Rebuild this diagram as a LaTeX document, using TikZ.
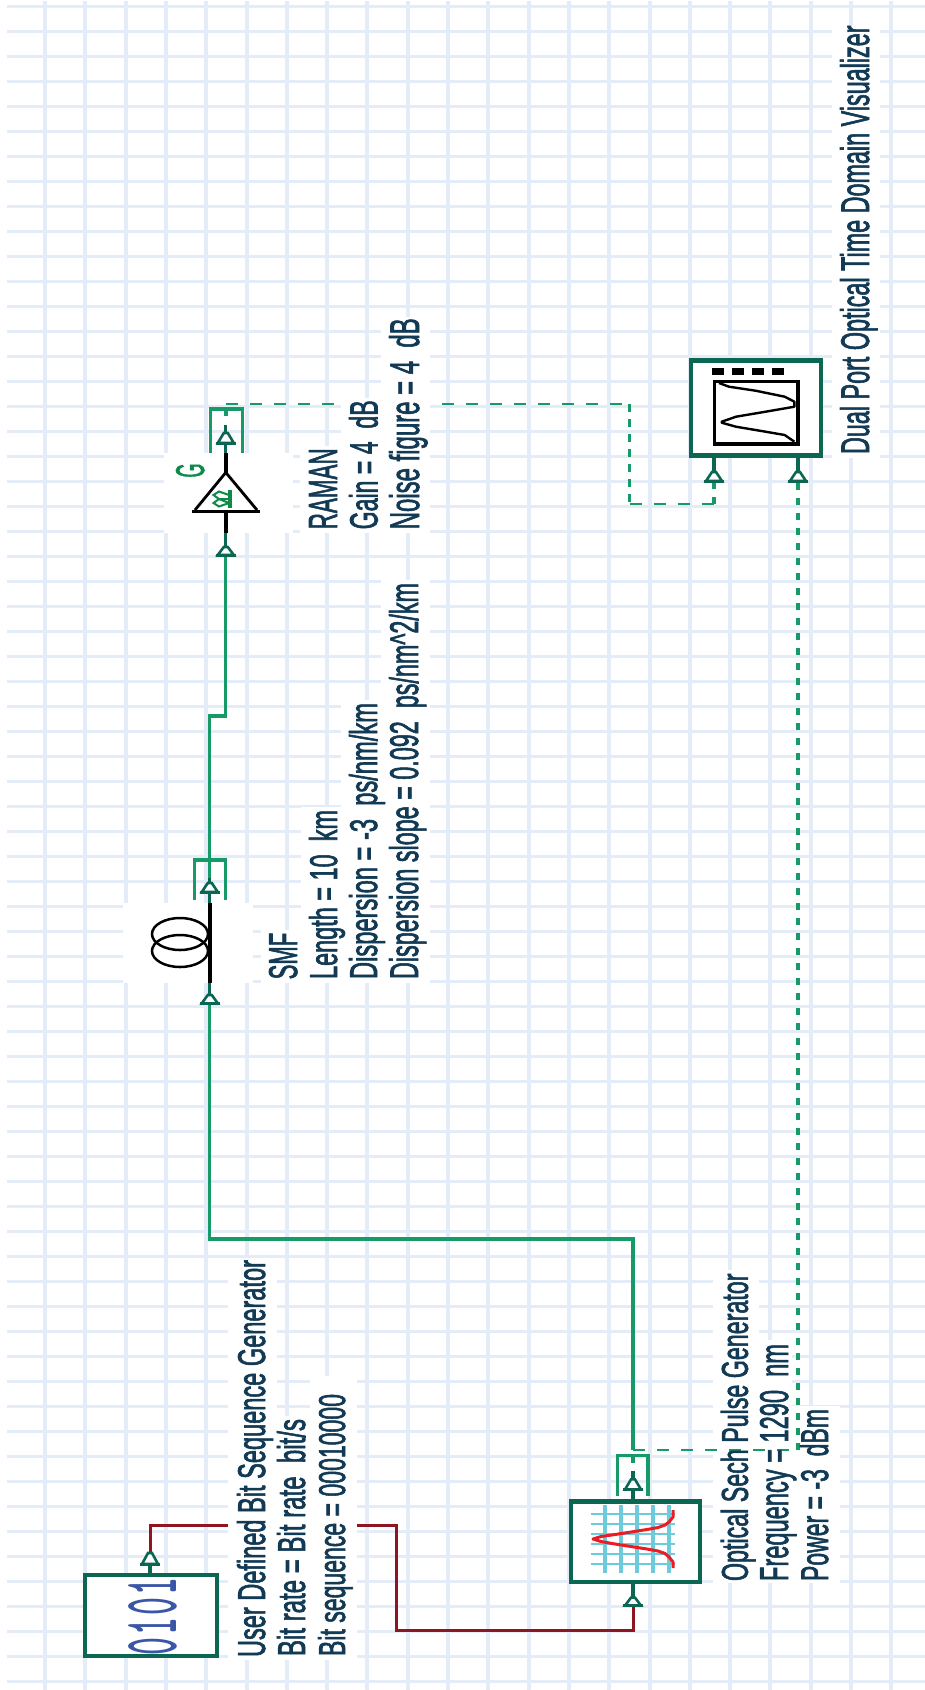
\documentclass[tikz,border=0pt]{standalone}
\usepackage{fontspec}
\usepackage{graphicx}
\setmainfont[FakeBold=2.2]{Liberation Sans}
\definecolor{gridc}{HTML}{E4ECF7}
\definecolor{dkgreen}{HTML}{0B6652}
\definecolor{wire}{HTML}{159A68}
\definecolor{wirered}{HTML}{8F1620}
\definecolor{txtc}{HTML}{123A55}
\definecolor{digit}{HTML}{3A56A6}
\definecolor{gicon}{HTML}{0B8A4A}
\definecolor{cy}{HTML}{6DCBDC}
\definecolor{rd}{HTML}{ED1C24}
\tikzset{
  x=1pt,y=-1pt,
  lbl/.style={anchor=base west,rotate=90,inner sep=0pt,outer sep=0pt,text=txtc},
  blockbox/.style={draw=dkgreen,line width=4.2pt,fill=white,inner sep=0pt,outer sep=0pt,minimum width=#1},
  solidwire/.style={draw=wire,line width=3.2pt},
  redwire/.style={draw=wirered,line width=3pt},
  dashh/.style={draw=wire,line width=2.8pt,dash pattern=on 12pt off 12pt},
  dashv/.style={draw=wire,line width=3.4pt,dash pattern=on 7.5pt off 7.5pt},
  stemline/.style={draw=dkgreen,line width=3.2pt},
  bracket/.style={draw=wire,line width=3.2pt},
  blackline/.style={draw=black,line width=3.6pt}
}
% \lab{name}{x baseline}{y start}{length}{height}{text}
\newcommand{\lab}[6]{\node[lbl] (#1) at (#2,#3) {\resizebox{#4pt}{#5pt}{#6}};}
% \portm{name}{x}{y apex}{y base}
\newcommand{\portm}[4]{%
  \coordinate (#1a) at (#2,#3);
  \coordinate (#1b) at (#2,#4);
  \draw[dkgreen,line width=2.6pt,fill=white,line join=miter] (#2-8,#4) -- (#2-2,#3) -- (#2+2,#3) -- (#2+8,#4) -- cycle;
  \draw[dkgreen,line width=3pt] (#2-10,#4) -- (#2+10,#4);
}
\newcommand{\brk}[4]{\draw[bracket] (#1,#4) -- (#1,#3) -- (#2,#3) -- (#2,#4);}
\begin{document}
\begin{tikzpicture}
\useasboundingbox (0,0) rectangle (925,1690);
\fill[white] (0,0) rectangle (925,1690);
% grid
\foreach \k in {0,...,67}{\draw[gridc,line width=3pt] (7,6.3+25*\k) -- (925,6.3+25*\k);}
\foreach \k in {0,...,21}{\draw[gridc,line width=4pt] (45+40.3*\k,1) -- (45+40.3*\k,1690);}

% wires hidden by the label backgrounds
\coordinate (r1) at (150,1525.3);
\coordinate (r2) at (396,1525.3);
\coordinate (r3) at (396,1630.4);
\coordinate (r4) at (633,1630.4);
\coordinate (r0) at (150,1553);
\coordinate (r5) at (633,1606);
\draw[redwire,line join=miter] (r0) -- (r1) -- (r2) -- (r3) -- (r4) -- (r5);
\coordinate (d1) at (226,404);
\coordinate (d2) at (629.6,404);
\coordinate (d3) at (629.6,504);
\coordinate (d4) at (714,504);
\coordinate (d5) at (714,481);
\coordinate (d0) at (226,417);
\draw[dashh] (d1) -- (d2);
\draw[dashv] (d2) -- (d3);
\draw[dashh] (d3) -- (d4);
\draw[dashv] (d4) -- (d5);
\draw[dashv] (d1) ++(0,4) -- (d0);

% white label backgrounds
\fill[white] (228,1258) rectangle (277,1660);
\fill[white] (277,1416) rectangle (310,1660);
\fill[white] (310,1376) rectangle (357,1660);
\fill[white] (713,1270) rectangle (759,1583);
\fill[white] (759,1340) rectangle (792,1583);
\fill[white] (792,1406) rectangle (840,1583);
\fill[white] (123,903) rectangle (253,983);
\fill[white] (261,930) rectangle (301,983);
\fill[white] (301,807) rectangle (341,983);
\fill[white] (341,700) rectangle (381,983);
\fill[white] (381,580) rectangle (430,983);
\fill[white] (164,453) rectangle (293,533);
\fill[white] (300,446) rectangle (341,533);
\fill[white] (341,398) rectangle (381,533);
\fill[white] (381,317) rectangle (430,533);
\fill[white] (832,25) rectangle (880,458);

% blocks
\node[blockbox=132pt,minimum height=81.5pt] (bitgen) at (151.2,1615.5) {};
\node[blockbox=129.5pt,minimum height=80.5pt] (pulse) at (635.4,1541.7) {};
\node[blockbox=130pt,minimum height=95pt] (vis) at (755.6,407.9) {};

% brackets
\brk{617.5}{648}{1455.5}{1496}
\brk{210.5}{242.5}{409}{453}
\brk{194.5}{225.5}{860}{900}

% green wires
\coordinate (g1) at (633,1239);
\coordinate (g2) at (209.8,1239);
\coordinate (g3) at (209.8,1003);
\coordinate (g0) at (633,1450);
\draw[solidwire,line join=miter] (g0) -- (g1) -- (g2) -- (g3);
\coordinate (s1) at (209.8,878);
\coordinate (s2) at (209.8,716);
\coordinate (s3) at (225.8,716);
\coordinate (s4) at (225.8,555);
\draw[solidwire,line join=miter] (s1) -- (s2) -- (s3) -- (s4);
% visualizer second input
\coordinate (e1) at (798,1450);
\coordinate (e2) at (798,481);
\draw[dashh] (g0) -- (e1);
\draw[dashv] (e1) -- (e2);
\coordinate (g4) at (633,1463);
\draw[dashv] (g0) ++(0,5) -- (g4);

% SMF
\draw[blackline] (209.8,903) -- (209.8,983);
\draw[black,line width=2.5pt] (180,934) ellipse [x radius=28,y radius=16];
\draw[black,line width=2.5pt] (180,951) ellipse [x radius=28,y radius=16];
\draw[stemline] (209.8,878) -- (209.8,884);
\draw[stemline] (209.8,892) -- (209.8,903);
\draw[stemline] (209.8,983) -- (209.8,995);
\portm{smfout}{209.8}{883}{892}
\portm{smfin}{209.8}{995}{1003.3}

% RAMAN
\draw[blackline] (225.8,453) -- (225.8,473);
\draw[blackline] (225.8,511) -- (225.8,533);
\draw[black,line width=3pt,line join=miter] (192,511) -- (260,511);
\draw[black,line width=2.8pt] (195,510) -- (225.8,472.5) -- (257,510);
\draw[stemline] (225.8,533) -- (225.8,547);
\draw[stemline] (225.8,425) -- (225.8,433);
\draw[stemline] (225.8,443) -- (225.8,453);
\portm{ramout}{225.8}{433}{443}
\portm{ramin}{225.8}{547}{555}
\draw[gicon,line width=3.2pt] (230,490) -- (230,508);
\draw[gicon,line width=2pt] (229,495) -- (219,491.5) -- (213.5,495) -- (219,499) -- (229,499);
\draw[gicon,line width=2pt] (229,503) -- (219,499) -- (213.5,503) -- (219,506.5) -- (229,503);
\node[lbl,text=gicon] (glabel) at (204,477.5) {\resizebox{14pt}{28pt}{G}};

% bit generator
\draw[stemline] (150,1564) -- (150,1574);
\portm{bitout}{150}{1553}{1564}
\node[lbl,text=digit] (bits) at (176,1655) {\resizebox{78pt}{48pt}{\ttfamily\bfseries 0\kern.06em 1\kern.06em 0\kern.06em 1}};

% pulse ports and icon
\draw[stemline] (633,1471) -- (633,1480);
\draw[stemline] (633,1489) -- (633,1500);
\draw[stemline] (633,1583) -- (633,1598);
\portm{pulout}{633}{1479.4}{1489.5}
\portm{pulin}{633}{1597.6}{1605.6}
\foreach \yy in {1514,1524,1534,1544,1554,1564}{\draw[cy,line width=2.2pt] (591,\yy) -- (675,\yy);}
\foreach \xx in {605,621,637,653,669}{\draw[cy,line width=4pt] (\xx,1505) -- (\xx,1573);}
\draw[rd,line width=3pt,line join=round] (673,1510) -- (673,1517) -- (669,1522) -- (665,1525) -- (658,1527.5) -- (647,1529.5) -- (631,1532) -- (615,1534.5) -- (601,1536.5) -- (593,1539) -- (601,1541.5) -- (615,1544) -- (631,1546.5) -- (647,1549) -- (658,1551) -- (665,1553.5) -- (669,1557) -- (673,1562) -- (673,1568);

% visualizer ports and icon
\draw[stemline] (714,457) -- (714,472);
\draw[stemline] (798,457) -- (798,472);
\portm{visa}{714}{472}{481}
\portm{visb}{798}{472}{481}
\foreach \xx in {718,738,758,778}{\fill[black] (\xx-6,368) rectangle (\xx+6,375);}
\draw[black,line width=3.2pt] (714.5,381.5) rectangle (798,444);
\draw[black,line width=2.4pt,line join=round] (719,383) -- (729,386.7) -- (755.6,390.7) -- (784.7,396.7) -- (794.4,401.7) -- (794.4,406.7) -- (765.6,411.7) -- (736,416.7) -- (721.7,421.7) -- (721.7,422.7) -- (736,426.7) -- (765.6,431.7) -- (784.7,435) -- (794.4,441.7);

% labels
\lab{bita}{265}{1657}{397}{28}{User Defined Bit Sequence Generator}
\lab{bitb}{305}{1656}{237}{28}{Bit rate = Bit rate\ \ bit/s}
\lab{bitc}{345}{1656}{262}{27}{Bit sequence = 00010000}
\lab{pula}{747.8}{1581}{307.5}{27}{Optical Sech Pulse Generator}
\lab{pulb}{788}{1581}{237}{28}{Frequency = 1290\ \ nm}
\lab{pulc}{828}{1581}{172}{28}{Power = -3\ \ dBm}
\lab{smfa}{297}{979.3}{46.6}{28}{SMF}
\lab{smfb}{337}{979}{169}{28}{Length = 10\ \ km}
\lab{smfc}{377}{979}{276}{28}{Dispersion = -3\ \ ps/nm/km}
\lab{smfd}{418}{979}{396}{29}{Dispersion slope = 0.092\ \ ps/nm\^{}2/km}
\lab{rama}{337}{529.3}{81}{28}{RAMAN}
\lab{ramb}{377.5}{529.3}{129}{28.5}{Gain = 4\ \ dB}
\lab{ramc}{419}{529.3}{211}{30}{Noise figure = 4\ \ dB}
\lab{visl}{869}{454}{428.5}{29}{Dual Port Optical Time Domain Visualizer}
\end{tikzpicture}
\end{document}
